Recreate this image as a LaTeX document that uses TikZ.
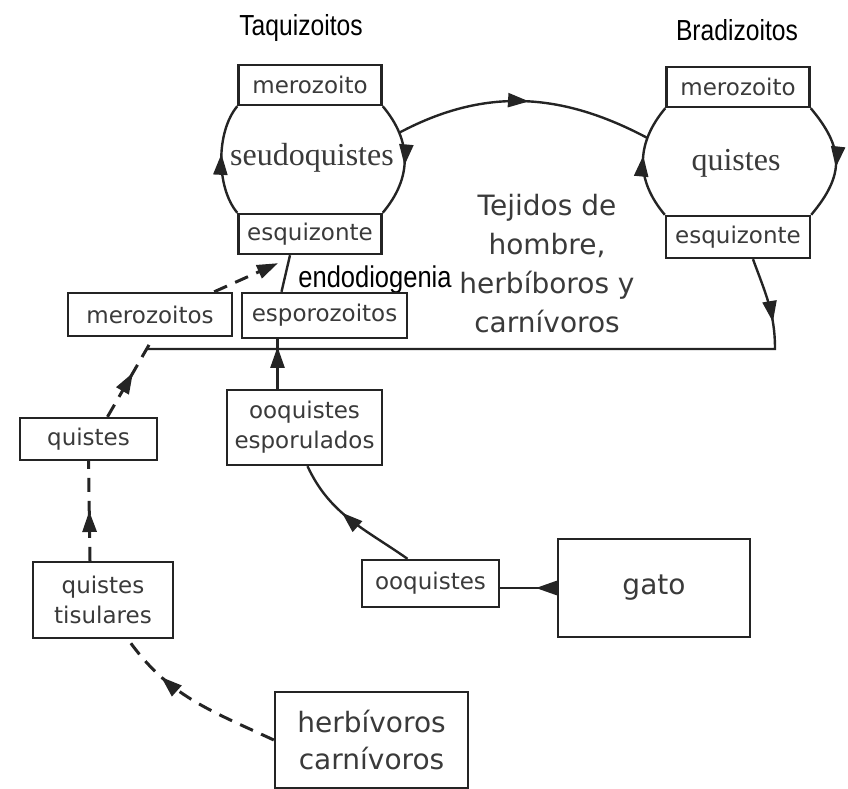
\documentclass[tikz,border=0pt]{standalone}
\usepackage{fontspec}
\setmainfont{DejaVu Sans}
\newfontfamily\headfont{Liberation Sans}[FakeStretch=0.85]
\newfontfamily\cystfont{Liberation Serif}
\usetikzlibrary{arrows.meta}
\usetikzlibrary{decorations}
\usetikzlibrary{decorations.markings}

\definecolor{inkgray}{HTML}{3A3A3A}
\definecolor{linegray}{HTML}{242424}

\begin{document}
\begin{tikzpicture}[x=1pt, y=-1pt
    , box/.style={draw=linegray, line width=2.4pt, fill=white, text=inkgray
        , inner sep=0pt, align=center, font=\fontsize{23}{30}\selectfont}
    , bigbox/.style={box, font=\fontsize{28}{37}\selectfont}
    , flow/.style={draw=linegray, line width=2.4pt}
    , dashflow/.style={flow, line width=3pt, dash pattern=on 14pt off 9pt}
    , marrow/.style={postaction={decorate}
        , decoration={markings, mark=at position #1 with {\arrow{Triangle[length=21pt, width=14pt]}}}}
    ]

    \useasboundingbox (0,0) rectangle (848,789);

    %% Taquizoitos
    \node[] (tq) at (301,28) {\headfont\fontsize{29}{29}\selectfont Taquizoitos};
    \node[box, minimum width=143pt, minimum height=40pt] (mero1) at (310,85) {merozoito};
    \node[box, minimum width=143pt, minimum height=40pt] (esq1) at (310,234) {esquizonte};
    \node[text=inkgray] (sq) at (312,158) {\cystfont\fontsize{32}{32}\selectfont seudoquistes};
    \draw[flow, marrow=0.55] (mero1.south east) to[out=-50, in=50, looseness=1.1]
        coordinate[pos=0.25] (sqout) (esq1.north east);
    \draw[flow, marrow=0.55] (esq1.north west) to[out=130, in=-130, looseness=0.8] (mero1.south west);

    %% Bradizoitos
    \node[] (bz) at (737,30) {\headfont\fontsize{29}{29}\selectfont Bradizoitos};
    \node[box, minimum width=143pt, minimum height=40pt] (mero2) at (738,87) {merozoito};
    \node[box, minimum width=144pt, minimum height=42pt] (esq2) at (738,237) {esquizonte};
    \node[text=inkgray] (qu) at (736,163) {\cystfont\fontsize{32}{32}\selectfont quistes};
    \draw[flow, marrow=0.55] (mero2.south east) to[out=-50, in=50, looseness=1.25] (esq2.north east);
    \draw[flow, marrow=0.55] (esq2.north west) to[out=130, in=-130, looseness=1.1]
        coordinate[pos=0.72] (qin) (mero2.south west);

    % de taquizoitos a bradizoitos
    \draw[flow, marrow=0.52] (sqout) to[out=28, in=152] (qin);

    \node[text=inkgray, align=center, font=\fontsize{28}{39}\selectfont] (tej) at (547,264)
        {Tejidos de\\hombre,\\herbíboros y\\carnívoros};
    \node[] (endo) at (375,280) {\headfont\fontsize{30}{30}\selectfont endodiogenia};

    %% middle row
    \node[box, minimum width=164pt, minimum height=43pt] (mzs) at (150,314.5) {merozoitos};
    \node[box, minimum width=165pt, minimum height=45pt] (esp) at (324.5,315.5) {esporozoitos};
    \coordinate (rcorner) at (775,349);
    \coordinate (lcorner) at (147,349);
    \draw[flow, marrow=66pt] ([xshift=15pt]esq2.south) to[out=-70, in=90] (rcorner) -- (lcorner);

    %% lower part
    \node[box, minimum width=137pt, minimum height=42pt] (qst) at (88.5,439) {quistes};
    \node[box, minimum width=140pt, minimum height=76pt] (tis) at (103,600) {quistes\\tisulares};
    \node[box, minimum width=155pt, minimum height=75pt] (oqe) at (304.5,427.5) {ooquistes\\esporulados};
    \node[box, minimum width=137pt, minimum height=47pt] (ooq) at (430.5,583.5) {ooquistes};
    \node[bigbox, minimum width=192pt, minimum height=98pt] (gato) at (654,588) {gato};
    \node[bigbox, minimum width=193pt, minimum height=96pt] (herb) at (371.5,740) {herbívoros\\carnívoros};

    % solid arrows
    \draw[flow, marrow=42pt] ([xshift=-27pt]oqe.north) -- ([xshift=-27pt]oqe.north |- esp.south);
    \draw[flow, marrow=0.58] ([xshift=-23pt]ooq.north) to[out=145, in=-65] ([xshift=3pt]oqe.south);
    \draw[flow, marrow=21pt] (gato.west) -- (gato.west -| ooq.east);
    \draw[flow] ([xshift=-43pt]esp.north) -- ([xshift=-20pt]esq1.south);

    % dashed arrows
    \draw[dashflow, marrow=0.72] (herb.west) to[out=155, in=-55] ([xshift=25pt]tis.south);
    \draw[dashflow, marrow=0.5] ([xshift=-13pt]tis.north) -- (qst.south);
    \draw[dashflow, marrow=0.6] ([xshift=19pt]qst.north) -- ([yshift=-6pt]mzs.south);
    \draw[dashflow, -{Triangle[length=21pt, width=14pt]}] ([xshift=-19pt]mzs.north east)
        -- ([xshift=-32pt, yshift=-8pt]esq1.south);

\end{tikzpicture}
\end{document}
